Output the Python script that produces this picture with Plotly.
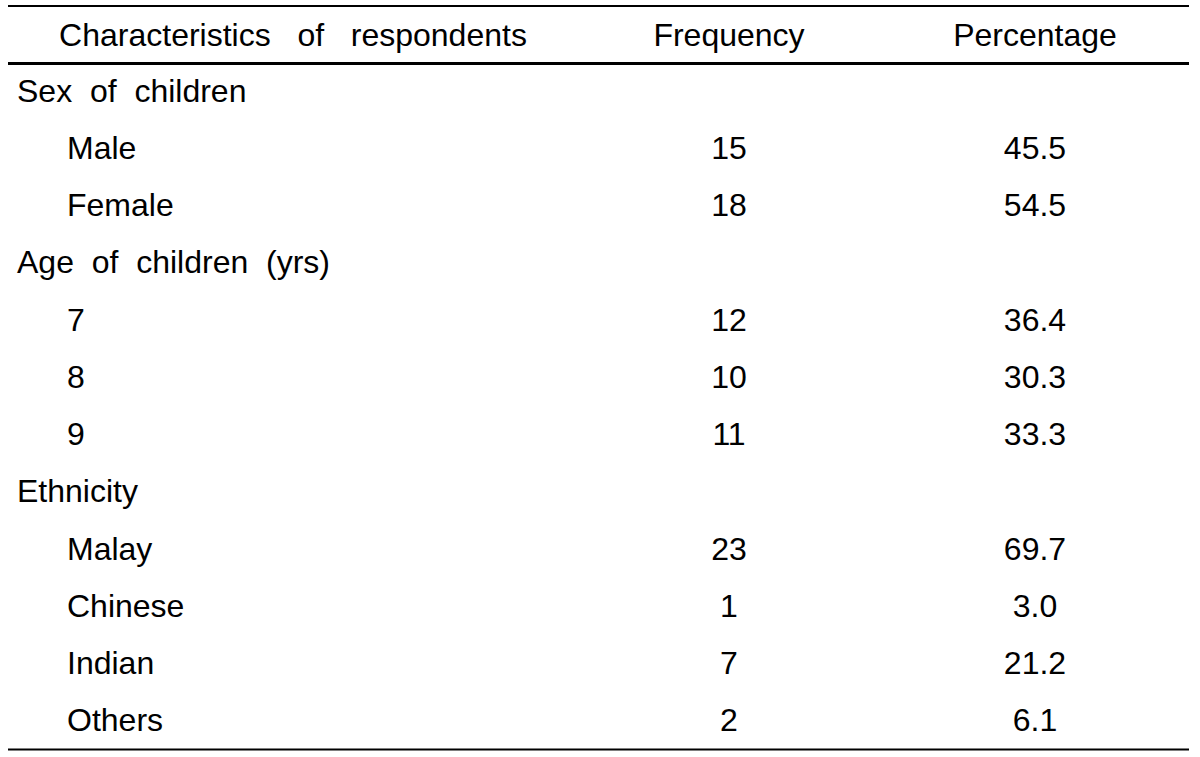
import plotly.graph_objects as go

# ---- data ----
header = ["Characteristics of respondents", "Frequency", "Percentage"]
row_labels = ["Sex of children", "Male", "Female", "Age of children (yrs)", "7", "8", "9",
              "Ethnicity", "Malay", "Chinese", "Indian", "Others"]
row_level = [0, 1, 1, 0, 1, 1, 1, 0, 1, 1, 1, 1]
frequency = ["", "15", "18", "", "12", "10", "11", "", "23", "1", "7", "2"]
percentage = ["", "45.5", "54.5", "", "36.4", "30.3", "33.3", "", "69.7", "3.0", "21.2", "6.1"]

W, H = 1200, 757
FONT = "Liberation Sans, Arial, sans-serif"
FS = 32
NB = "\u00a0"


def spaced(s, extra=1):
    return s.replace(" ", " " + NB * extra)


rows = list(range(1, len(row_labels) + 1))
tf = dict(family=FONT, size=FS, color="black")

fig = go.Figure()

# header
fig.add_trace(go.Scatter(x=[293], y=[0.03], mode="text", text=[spaced(header[0], 2)],
                         textposition="middle center", textfont=tf,
                         hoverinfo="skip", showlegend=False))
fig.add_trace(go.Scatter(x=[729, 1035], y=[0.03, 0.03], mode="text", text=header[1:],
                         textposition="middle center", textfont=tf,
                         hoverinfo="skip", showlegend=False))

# labels
lab_x = [17 if lv == 0 else 67 for lv in row_level]
fig.add_trace(go.Scatter(x=lab_x, y=rows, mode="text", text=[spaced(t) for t in row_labels],
                         textposition="middle right", textfont=tf,
                         hoverinfo="skip", showlegend=False))
fig.add_trace(go.Scatter(x=[729] * len(rows), y=rows, mode="text", text=frequency,
                         textposition="middle center", textfont=tf,
                         hoverinfo="skip", showlegend=False))
fig.add_trace(go.Scatter(x=[1035] * len(rows), y=rows, mode="text", text=percentage,
                         textposition="middle center", textfont=tf,
                         hoverinfo="skip", showlegend=False))

# rules
def hline(ypx, w):
    fig.add_shape(type="line", xref="paper", yref="paper",
                  x0=8 / W, x1=1189 / W, y0=1 - ypx / H, y1=1 - ypx / H,
                  line=dict(color="black", width=w))

hline(6, 2)
hline(63.5, 3)
hline(749.5, 2)

y0px, step = 36.23, 57.27
fig.update_xaxes(range=[0, W], visible=False, fixedrange=True)
fig.update_yaxes(range=[(H - y0px) / step, -y0px / step], visible=False, fixedrange=True)
fig.update_layout(width=W, height=H, margin=dict(l=0, r=0, t=0, b=0),
                  paper_bgcolor="white", plot_bgcolor="white")

fig.write_html("out.html", config={"displayModeBar": False},
               post_script="document.body.style.margin='0';document.body.style.overflow='hidden';")
